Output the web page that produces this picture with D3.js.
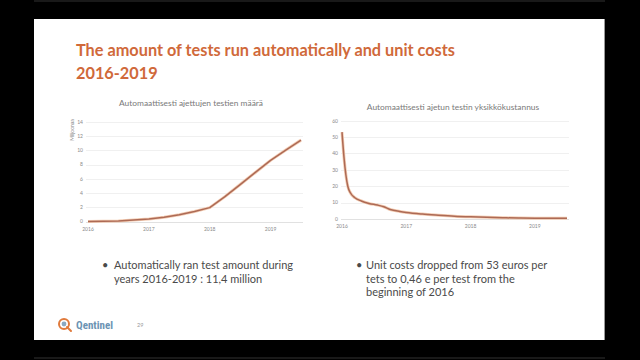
<!DOCTYPE html>
<html><head><meta charset="utf-8">
<script src="https://cdn.jsdelivr.net/npm/d3@7"></script>
<style>
html,body{margin:0;padding:0;background:#000;}
svg{display:block;}
</style></head>
<body>
<svg id="c" width="640" height="360"></svg>
<script>
// ---- data ----
const yearTicks = [2016, 2017, 2018, 2019];
const testsYears = [2016, 2016.25, 2016.5, 2016.75, 2017, 2017.25, 2017.5, 2017.75, 2018, 2018.25, 2018.5, 2018.75, 2019, 2019.25, 2019.5];
const testsMillions = [0, 0.02, 0.08, 0.2, 0.35, 0.6, 0.95, 1.4, 1.95, 3.5, 5.2, 6.9, 8.6, 10.05, 11.45];
const testsYTicks = [0, 2, 4, 6, 8, 10, 12, 14];
const costYears = [2016, 2016.03, 2016.06, 2016.09, 2016.13, 2016.2, 2016.3, 2016.42, 2016.55, 2016.65, 2016.75, 2016.9, 2017, 2017.25, 2017.5, 2017.75, 2018, 2018.25, 2018.5, 2018.75, 2019, 2019.25, 2019.5];
const costEuros = [53, 38, 27, 20, 16, 13, 11, 9.5, 8.5, 7.5, 5.8, 4.6, 4, 3, 2.3, 1.7, 1.3, 1.0, 0.75, 0.6, 0.5, 0.48, 0.46];
const costYTicks = [0, 10, 20, 30, 40, 50, 60];
const titleLines = ["The amount of tests run automatically and unit costs", "2016-2019"];
const leftChartTitle = "Automaattisesti ajettujen testien määrä";
const rightChartTitle = "Automaattisesti ajetun testin yksikkökustannus";
const leftYLabel = "Miljoonaa";
const bullet1 = ["Automatically ran test amount during", "years 2016-2019 : 11,4 million"];
const bullet2 = ["Unit costs dropped from 53 euros per", "tets to 0,46 e per test from the", "beginning of 2016"];

const svg = d3.select("#c");
const font = "Lato, 'Open Sans', sans-serif";

// frame lines (video)
svg.append("line").attr("x1",34).attr("x2",605).attr("y1",1).attr("y2",1).attr("stroke","#333").attr("stroke-width",1);
svg.append("line").attr("x1",34).attr("x2",605).attr("y1",358).attr("y2",358).attr("stroke","#333").attr("stroke-width",1);
// slide
svg.append("rect").attr("x",34).attr("y",19).attr("width",570).attr("height",321).attr("fill","#fff");
svg.append("line").attr("x1",604.5).attr("x2",604.5).attr("y1",19).attr("y2",340).attr("stroke","#999").attr("stroke-width",1);

// title
svg.append("g").selectAll("text").data(titleLines).join("text")
  .attr("x",76).attr("y",(d,i)=>56+i*23)
  .attr("font-family",font).attr("font-weight","bold").attr("font-size",16.3)
  .attr("fill","#d0693a").text(d=>d);

function chart(opts){
  const g = svg.append("g");
  const x = d3.scaleLinear().domain([2016, 2019.5]).range(opts.xr);
  const y = d3.scaleLinear().domain(opts.yd).range(opts.yr);
  g.selectAll("line.grid").data(opts.yticks).join("line")
    .attr("x1",opts.gx[0]).attr("x2",opts.gx[1])
    .attr("y1",d=>Math.round(y(d))+0.5).attr("y2",d=>Math.round(y(d))+0.5)
    .attr("stroke",(d)=>d===0?"#d9d9d9":"#ececec").attr("stroke-width",0.8);
  g.selectAll("text.yl").data(opts.yticks).join("text")
    .attr("x",opts.gx[0]-3).attr("y",d=>y(d)+1.8)
    .attr("text-anchor","end").attr("font-family",font).attr("font-size",5)
    .attr("fill","#8a8a8a").text(d=>d);
  g.selectAll("text.xl").data(yearTicks).join("text")
    .attr("x",d=>x(d)).attr("y",opts.yr[0]+9)
    .attr("text-anchor","middle").attr("font-family",font).attr("font-size",5)
    .attr("fill","#8a8a8a").text(d=>d);
  g.append("text").attr("x",opts.tx).attr("y",opts.ty).attr("text-anchor","middle")
    .attr("font-family",font).attr("font-size",8.4).attr("fill","#7a7a7a").text(opts.title);
  const line = d3.line().x((d,i)=>x(opts.xs[i])).y(d=>y(d)).curve(opts.curve);
  g.append("path").attr("d",line(opts.vals)).attr("fill","none")
    .attr("stroke","#f3cdb4").attr("stroke-width",3).attr("stroke-linejoin","round");
  g.append("path").attr("d",line(opts.vals)).attr("fill","none")
    .attr("stroke","#ad6a55").attr("stroke-width",1.5).attr("stroke-linejoin","round");
  return g;
}

const lg = chart({xr:[88,301], yd:[0,14], yr:[221.5,122], gx:[86,303], yticks:testsYTicks,
  xs:testsYears, vals:testsMillions, title:leftChartTitle, tx:191, ty:106, curve:d3.curveLinear});
lg.append("text").attr("transform","translate(74,130) rotate(-90)").attr("text-anchor","middle")
  .attr("font-family",font).attr("font-size",5).attr("fill","#8a8a8a").text(leftYLabel);

chart({xr:[342,567], yd:[0,60], yr:[219,120.7], gx:[341,569], yticks:costYTicks,
  xs:costYears, vals:costEuros, title:rightChartTitle, tx:453, ty:110, curve:d3.curveMonotoneX});

// bullets
function bullets(bx, tx, lines){
  svg.append("text").attr("x",bx).attr("y",269).attr("font-family",font).attr("font-size",11)
    .attr("fill","#4a4a4a").text("•");
  svg.append("g").selectAll("text").data(lines).join("text")
    .attr("x",tx).attr("y",(d,i)=>269+i*13.5).attr("font-family",font).attr("font-size",11)
    .attr("fill","#4a4a4a").text(d=>d);
}
bullets(102, 114, bullet1);
bullets(356, 366, bullet2);

// logo
const lgo = svg.append("g");
lgo.append("circle").attr("cx",64).attr("cy",324).attr("r",5).attr("fill","none").attr("stroke","#e07a3c").attr("stroke-width",2);
lgo.append("circle").attr("cx",64).attr("cy",324).attr("r",2.4).attr("fill","#8aa8c0");
lgo.append("line").attr("x1",67).attr("y1",327).attr("x2",71).attr("y2",331).attr("stroke","#e07a3c").attr("stroke-width",2).attr("stroke-linecap","round");
lgo.append("text").attr("x",76).attr("y",329).attr("font-family","'Roboto Condensed','DejaVu Sans Condensed',Roboto,sans-serif")
  .attr("font-stretch","condensed").attr("font-weight","bold").attr("font-size",11).attr("fill","#6b93b3").text("Qentinel");
svg.append("text").attr("x",137).attr("y",327).attr("font-family",font).attr("font-size",5.5).attr("fill","#999").text("29");
</script>
</body></html>
